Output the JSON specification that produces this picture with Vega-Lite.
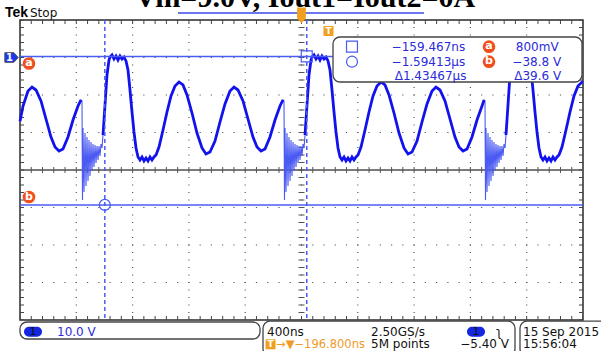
{
  "$schema": "https://vega.github.io/schema/vega-lite/v6.json",
  "width": 563,
  "height": 300,
  "autosize": {"type": "none"},
  "padding": {"left": 20, "top": 20, "right": 18, "bottom": 31},
  "background": "white",
  "config": {"view": {"stroke": "#2a2a2a", "strokeWidth": 1.5}},
  "datasets": {
    "trace": [
      {"t": -2196.8, "v": -16.5, "seg": "w0"}, {"t": -2175.5, "v": -12.43, "seg": "w0"}, {"t": -2140.0, "v": -8.43, "seg": "w0"}, {"t": -2111.5, "v": -7.37, "seg": "w0"}, {"t": -2083.1, "v": -8.17, "seg": "w0"}, {"t": -2047.6, "v": -11.1, "seg": "w0"}, {"t": -2012.1, "v": -15.9, "seg": "w0"}, {"t": -1976.6, "v": -20.7, "seg": "w0"}, {"t": -1948.1, "v": -23.37, "seg": "w0"}, {"t": -1919.7, "v": -24.43, "seg": "w0"}, {"t": -1891.3, "v": -23.9, "seg": "w0"}, {"t": -1855.8, "v": -20.7, "seg": "w0"}, {"t": -1820.2, "v": -16.17, "seg": "w0"}, {"t": -1784.7, "v": -12.43, "seg": "w0"}, {"t": -1763.4, "v": -10.83, "seg": "w0"},
      {"t": -1756.3, "v": -11.1, "seg": "r1"}, {"t": -1752.8, "v": -37.5, "seg": "r1"}, {"t": -1749.2, "v": -18.3, "seg": "r1"}, {"t": -1742.1, "v": -35.37, "seg": "r1"}, {"t": -1735.0, "v": -19.63, "seg": "r1"}, {"t": -1727.9, "v": -33.77, "seg": "r1"}, {"t": -1720.8, "v": -20.7, "seg": "r1"}, {"t": -1713.7, "v": -32.43, "seg": "r1"}, {"t": -1706.6, "v": -21.5, "seg": "r1"}, {"t": -1699.5, "v": -31.1, "seg": "r1"}, {"t": -1692.4, "v": -22.03, "seg": "r1"}, {"t": -1685.3, "v": -29.77, "seg": "r1"}, {"t": -1678.2, "v": -22.57, "seg": "r1"}, {"t": -1671.0, "v": -28.7, "seg": "r1"}, {"t": -1663.9, "v": -22.83, "seg": "r1"}, {"t": -1656.8, "v": -27.63, "seg": "r1"}, {"t": -1649.7, "v": -23.1, "seg": "r1"}, {"t": -1642.6, "v": -26.83, "seg": "r1"}, {"t": -1635.5, "v": -23.1, "seg": "r1"}, {"t": -1628.4, "v": -25.77, "seg": "r1"}, {"t": -1621.3, "v": -22.57, "seg": "r1"}, {"t": -1614.2, "v": -23.63, "seg": "r1"},
      {"t": -1607.1, "v": -20.17, "seg": "w1"}, {"t": -1592.9, "v": -12.17, "seg": "w1"}, {"t": -1578.7, "v": -4.17, "seg": "w1"}, {"t": -1564.5, "v": -0.17, "seg": "w1"}, {"t": -1557.4, "v": 0.63, "seg": "w1"}, {"t": -1543.2, "v": 1.17, "seg": "w1"}, {"t": -1529.0, "v": 0.1, "seg": "w1"}, {"t": -1514.7, "v": 0.9, "seg": "w1"}, {"t": -1500.5, "v": -0.17, "seg": "w1"}, {"t": -1486.3, "v": 0.9, "seg": "w1"}, {"t": -1472.1, "v": 0.1, "seg": "w1"}, {"t": -1457.9, "v": 0.63, "seg": "w1"}, {"t": -1443.7, "v": -0.43, "seg": "w1"}, {"t": -1429.5, "v": -2.83, "seg": "w1"}, {"t": -1415.3, "v": -8.17, "seg": "w1"}, {"t": -1401.1, "v": -14.03, "seg": "w1"}, {"t": -1386.9, "v": -19.37, "seg": "w1"}, {"t": -1372.6, "v": -23.63, "seg": "w1"}, {"t": -1358.4, "v": -26.03, "seg": "w1"}, {"t": -1344.2, "v": -26.83, "seg": "w1"}, {"t": -1330.0, "v": -26.03, "seg": "w1"}, {"t": -1315.8, "v": -27.1, "seg": "w1"}, {"t": -1301.6, "v": -26.3, "seg": "w1"}, {"t": -1287.4, "v": -27.1, "seg": "w1"}, {"t": -1273.2, "v": -26.03, "seg": "w1"}, {"t": -1259.0, "v": -26.83, "seg": "w1"}, {"t": -1244.8, "v": -26.03, "seg": "w1"}, {"t": -1230.5, "v": -25.5, "seg": "w1"}, {"t": -1209.2, "v": -23.37, "seg": "w1"}, {"t": -1180.8, "v": -18.83, "seg": "w1"}, {"t": -1152.4, "v": -14.03, "seg": "w1"}, {"t": -1124.0, "v": -9.77, "seg": "w1"}, {"t": -1095.6, "v": -7.1, "seg": "w1"}, {"t": -1067.1, "v": -6.03, "seg": "w1"}, {"t": -1038.7, "v": -6.83, "seg": "w1"}, {"t": -1010.3, "v": -9.5, "seg": "w1"}, {"t": -974.8, "v": -14.3, "seg": "w1"}, {"t": -939.3, "v": -19.63, "seg": "w1"}, {"t": -903.7, "v": -23.63, "seg": "w1"}, {"t": -875.3, "v": -25.23, "seg": "w1"}, {"t": -846.9, "v": -24.7, "seg": "w1"}, {"t": -811.4, "v": -21.77, "seg": "w1"}, {"t": -775.8, "v": -16.7, "seg": "w1"}, {"t": -740.3, "v": -11.9, "seg": "w1"}, {"t": -704.8, "v": -8.43, "seg": "w1"}, {"t": -676.4, "v": -7.37, "seg": "w1"}, {"t": -648.0, "v": -8.17, "seg": "w1"}, {"t": -612.4, "v": -11.1, "seg": "w1"}, {"t": -576.9, "v": -15.9, "seg": "w1"}, {"t": -541.4, "v": -20.7, "seg": "w1"}, {"t": -513.0, "v": -23.37, "seg": "w1"}, {"t": -484.5, "v": -24.43, "seg": "w1"}, {"t": -456.1, "v": -23.9, "seg": "w1"}, {"t": -420.6, "v": -20.7, "seg": "w1"}, {"t": -385.1, "v": -16.17, "seg": "w1"}, {"t": -349.6, "v": -12.43, "seg": "w1"}, {"t": -328.2, "v": -10.83, "seg": "w1"},
      {"t": -321.1, "v": -11.1, "seg": "r2"}, {"t": -317.6, "v": -37.5, "seg": "r2"}, {"t": -314.0, "v": -18.3, "seg": "r2"}, {"t": -306.9, "v": -35.37, "seg": "r2"}, {"t": -299.8, "v": -19.63, "seg": "r2"}, {"t": -292.7, "v": -33.77, "seg": "r2"}, {"t": -285.6, "v": -20.7, "seg": "r2"}, {"t": -278.5, "v": -32.43, "seg": "r2"}, {"t": -271.4, "v": -21.5, "seg": "r2"}, {"t": -264.3, "v": -31.1, "seg": "r2"}, {"t": -257.2, "v": -22.03, "seg": "r2"}, {"t": -250.1, "v": -29.77, "seg": "r2"}, {"t": -243.0, "v": -22.57, "seg": "r2"}, {"t": -235.8, "v": -28.7, "seg": "r2"}, {"t": -228.7, "v": -22.83, "seg": "r2"}, {"t": -221.6, "v": -27.63, "seg": "r2"}, {"t": -214.5, "v": -23.1, "seg": "r2"}, {"t": -207.4, "v": -26.83, "seg": "r2"}, {"t": -200.3, "v": -23.1, "seg": "r2"}, {"t": -193.2, "v": -25.77, "seg": "r2"}, {"t": -186.1, "v": -22.57, "seg": "r2"}, {"t": -179.0, "v": -23.63, "seg": "r2"},
      {"t": -171.9, "v": -20.17, "seg": "w2"}, {"t": -157.7, "v": -12.17, "seg": "w2"}, {"t": -143.5, "v": -4.17, "seg": "w2"}, {"t": -129.3, "v": -0.17, "seg": "w2"}, {"t": -122.2, "v": 0.63, "seg": "w2"}, {"t": -108.0, "v": 1.17, "seg": "w2"}, {"t": -93.8, "v": 0.1, "seg": "w2"}, {"t": -79.5, "v": 0.9, "seg": "w2"}, {"t": -65.3, "v": -0.17, "seg": "w2"}, {"t": -51.1, "v": 0.9, "seg": "w2"}, {"t": -36.9, "v": 0.1, "seg": "w2"}, {"t": -22.7, "v": 0.63, "seg": "w2"}, {"t": -8.5, "v": -0.43, "seg": "w2"}, {"t": 5.7, "v": -2.83, "seg": "w2"}, {"t": 19.9, "v": -8.17, "seg": "w2"}, {"t": 34.1, "v": -14.03, "seg": "w2"}, {"t": 48.3, "v": -19.37, "seg": "w2"}, {"t": 62.6, "v": -23.63, "seg": "w2"}, {"t": 76.8, "v": -26.03, "seg": "w2"}, {"t": 91.0, "v": -26.83, "seg": "w2"}, {"t": 105.2, "v": -26.03, "seg": "w2"}, {"t": 119.4, "v": -27.1, "seg": "w2"}, {"t": 133.6, "v": -26.3, "seg": "w2"}, {"t": 147.8, "v": -27.1, "seg": "w2"}, {"t": 162.0, "v": -26.03, "seg": "w2"}, {"t": 176.2, "v": -26.83, "seg": "w2"}, {"t": 190.5, "v": -26.03, "seg": "w2"}, {"t": 204.7, "v": -25.5, "seg": "w2"}, {"t": 226.0, "v": -23.37, "seg": "w2"}, {"t": 254.4, "v": -18.83, "seg": "w2"}, {"t": 282.8, "v": -14.03, "seg": "w2"}, {"t": 311.2, "v": -9.77, "seg": "w2"}, {"t": 339.6, "v": -7.1, "seg": "w2"}, {"t": 368.1, "v": -6.03, "seg": "w2"}, {"t": 396.5, "v": -6.83, "seg": "w2"}, {"t": 424.9, "v": -9.5, "seg": "w2"}, {"t": 460.4, "v": -14.3, "seg": "w2"}, {"t": 496.0, "v": -19.63, "seg": "w2"}, {"t": 531.5, "v": -23.63, "seg": "w2"}, {"t": 559.9, "v": -25.23, "seg": "w2"}, {"t": 588.3, "v": -24.7, "seg": "w2"}, {"t": 623.8, "v": -21.77, "seg": "w2"}, {"t": 659.4, "v": -16.7, "seg": "w2"}, {"t": 694.9, "v": -11.9, "seg": "w2"}, {"t": 730.4, "v": -8.43, "seg": "w2"}, {"t": 758.8, "v": -7.37, "seg": "w2"}, {"t": 787.2, "v": -8.17, "seg": "w2"}, {"t": 822.8, "v": -11.1, "seg": "w2"}, {"t": 858.3, "v": -15.9, "seg": "w2"}, {"t": 893.8, "v": -20.7, "seg": "w2"}, {"t": 922.2, "v": -23.37, "seg": "w2"}, {"t": 950.7, "v": -24.43, "seg": "w2"}, {"t": 979.1, "v": -23.9, "seg": "w2"}, {"t": 1014.6, "v": -20.7, "seg": "w2"}, {"t": 1050.1, "v": -16.17, "seg": "w2"}, {"t": 1085.7, "v": -12.43, "seg": "w2"}, {"t": 1100.0, "v": -10.83, "seg": "w2"},
      {"t": 1106.9, "v": -11.1, "seg": "r3"}, {"t": 1110.5, "v": -37.5, "seg": "r3"}, {"t": 1114.0, "v": -18.3, "seg": "r3"}, {"t": 1121.1, "v": -35.37, "seg": "r3"}, {"t": 1128.2, "v": -19.63, "seg": "r3"}, {"t": 1135.3, "v": -33.77, "seg": "r3"}, {"t": 1142.4, "v": -20.7, "seg": "r3"}, {"t": 1149.5, "v": -32.43, "seg": "r3"}, {"t": 1156.6, "v": -21.5, "seg": "r3"}, {"t": 1163.7, "v": -31.1, "seg": "r3"}, {"t": 1170.8, "v": -22.03, "seg": "r3"}, {"t": 1178.0, "v": -29.77, "seg": "r3"}, {"t": 1185.1, "v": -22.57, "seg": "r3"}, {"t": 1192.2, "v": -28.7, "seg": "r3"}, {"t": 1199.3, "v": -22.83, "seg": "r3"}, {"t": 1206.4, "v": -27.63, "seg": "r3"}, {"t": 1213.5, "v": -23.1, "seg": "r3"}, {"t": 1220.6, "v": -26.83, "seg": "r3"}, {"t": 1227.7, "v": -23.1, "seg": "r3"}, {"t": 1234.8, "v": -25.77, "seg": "r3"}, {"t": 1241.9, "v": -22.57, "seg": "r3"}, {"t": 1249.0, "v": -23.63, "seg": "r3"},
      {"t": 1256.1, "v": -20.17, "seg": "w3"}, {"t": 1270.3, "v": -12.17, "seg": "w3"}, {"t": 1284.5, "v": -4.17, "seg": "w3"}, {"t": 1298.7, "v": -0.17, "seg": "w3"}, {"t": 1305.8, "v": 0.63, "seg": "w3"}, {"t": 1320.0, "v": 1.17, "seg": "w3"}, {"t": 1334.3, "v": 0.1, "seg": "w3"}, {"t": 1348.5, "v": 0.9, "seg": "w3"}, {"t": 1362.7, "v": -0.17, "seg": "w3"}, {"t": 1376.9, "v": 0.9, "seg": "w3"}, {"t": 1391.1, "v": 0.1, "seg": "w3"}, {"t": 1405.3, "v": 0.63, "seg": "w3"}, {"t": 1419.5, "v": -0.43, "seg": "w3"}, {"t": 1433.7, "v": -2.83, "seg": "w3"}, {"t": 1447.9, "v": -8.17, "seg": "w3"}, {"t": 1462.1, "v": -14.03, "seg": "w3"}, {"t": 1476.3, "v": -19.37, "seg": "w3"}, {"t": 1490.6, "v": -23.63, "seg": "w3"}, {"t": 1504.8, "v": -26.03, "seg": "w3"}, {"t": 1519.0, "v": -26.83, "seg": "w3"}, {"t": 1533.2, "v": -26.03, "seg": "w3"}, {"t": 1547.4, "v": -27.1, "seg": "w3"}, {"t": 1561.6, "v": -26.3, "seg": "w3"}, {"t": 1575.8, "v": -27.1, "seg": "w3"}, {"t": 1590.0, "v": -26.03, "seg": "w3"}, {"t": 1604.2, "v": -26.83, "seg": "w3"}, {"t": 1618.5, "v": -26.03, "seg": "w3"}, {"t": 1632.7, "v": -25.5, "seg": "w3"}, {"t": 1654.0, "v": -23.37, "seg": "w3"}, {"t": 1682.4, "v": -18.83, "seg": "w3"}, {"t": 1710.8, "v": -14.03, "seg": "w3"}, {"t": 1739.2, "v": -9.77, "seg": "w3"}, {"t": 1767.6, "v": -7.1, "seg": "w3"}, {"t": 1796.1, "v": -6.03, "seg": "w3"}, {"t": 1803.2, "v": -6.0, "seg": "w3"}
    ]
  },
  "layer": [
    {
      "data": {"values": [{"t": -1796.8}, {"t": -1396.8}, {"t": -996.8}, {"t": -596.8}, {"t": -196.8}, {"t": 203.2}, {"t": 603.2}, {"t": 1003.2}, {"t": 1403.2}]},
      "mark": {"type": "rule", "color": "#555", "strokeWidth": 1.2, "strokeDash": [1.2, 6.3], "strokeDashOffset": 0.6},
      "encoding": {
        "x": {"field": "t", "type": "quantitative", "scale": {"domain": [-2196.8, 1803.2], "nice": false, "zero": false}, "axis": null}
      }
    },
    {
      "data": {"values": [{"v": 0.5}, {"v": -9.5}, {"v": -19.5}, {"v": -39.5}, {"v": -49.5}, {"v": -59.5}]},
      "mark": {"type": "rule", "color": "#555", "strokeWidth": 1.2, "strokeDash": [1.2, 10.06], "strokeDashOffset": 0.6},
      "encoding": {
        "y": {"field": "v", "type": "quantitative", "scale": {"domain": [-69.5, 10.5], "nice": false, "zero": false}, "axis": null}
      }
    },
    {
      "data": {"values": [{"v": -29.5}]},
      "mark": {"type": "rule", "color": "#7a7a7a", "strokeWidth": 2.2},
      "encoding": {
        "y": {"field": "v", "type": "quantitative", "scale": {"domain": [-69.5, 10.5], "nice": false, "zero": false}, "axis": null}
      }
    },
    {
      "data": {"values": [{"v": 9.97}, {"v": -68.97}]},
      "mark": {"type": "rule", "color": "#444", "strokeWidth": 4, "strokeDash": [1, 10.26], "strokeDashOffset": 0.5},
      "encoding": {
        "y": {"field": "v", "type": "quantitative", "scale": {"domain": [-69.5, 10.5], "nice": false, "zero": false}, "axis": null}
      }
    },
    {
      "data": {"values": [{"v": -29.5}]},
      "mark": {"type": "rule", "color": "#555", "strokeWidth": 6, "strokeDash": [1, 10.26], "strokeDashOffset": 0.5},
      "encoding": {
        "y": {"field": "v", "type": "quantitative", "scale": {"domain": [-69.5, 10.5], "nice": false, "zero": false}, "axis": null}
      }
    },
    {
      "data": {"values": [{"t": -2182.6}, {"t": 1789.0}]},
      "mark": {"type": "rule", "color": "#444", "strokeWidth": 4, "strokeDash": [1, 6.5], "strokeDashOffset": 0.5},
      "encoding": {
        "x": {"field": "t", "type": "quantitative", "scale": {"domain": [-2196.8, 1803.2], "nice": false, "zero": false}, "axis": null}
      }
    },
    {
      "data": {"values": [{"t": -196.8}]},
      "mark": {"type": "rule", "color": "#555", "strokeWidth": 6, "strokeDash": [1, 6.5], "strokeDashOffset": 0.5},
      "encoding": {
        "x": {"field": "t", "type": "quantitative", "scale": {"domain": [-2196.8, 1803.2], "nice": false, "zero": false}, "axis": null}
      }
    },
    {
      "data": {"name": "trace"},
      "mark": {"type": "line", "color": "#4a5af2", "strokeWidth": 1.1},
      "encoding": {
        "x": {"field": "t", "type": "quantitative", "scale": {"domain": [-2196.8, 1803.2], "nice": false, "zero": false}, "axis": null},
        "y": {"field": "v", "type": "quantitative", "scale": {"domain": [-69.5, 10.5], "nice": false, "zero": false}, "axis": null}
      }
    },
    {
      "data": {"name": "trace"},
      "transform": [{"filter": {"field": "seg", "oneOf": ["w0", "w1", "w2", "w3"]}}],
      "mark": {"type": "line", "color": "#1212ee", "strokeWidth": 2.8},
      "encoding": {
        "x": {"field": "t", "type": "quantitative", "scale": {"domain": [-2196.8, 1803.2], "nice": false, "zero": false}, "axis": null},
        "y": {"field": "v", "type": "quantitative", "scale": {"domain": [-69.5, 10.5], "nice": false, "zero": false}, "axis": null},
        "detail": {"field": "seg", "type": "nominal"}
      }
    },
    {
      "data": {"values": [{"t": -159.467, "cursor": "1"}, {"t": -1594.13, "cursor": "2"}]},
      "mark": {"type": "rule", "color": "#4a5cf2", "strokeWidth": 1.5, "strokeDash": [4, 3]},
      "encoding": {
        "x": {"field": "t", "type": "quantitative", "scale": {"domain": [-2196.8, 1803.2], "nice": false, "zero": false}, "axis": null}
      }
    },
    {
      "data": {"values": [{"v": 0.8, "cursor": "a"}, {"v": -38.8, "cursor": "b"}]},
      "mark": {"type": "rule", "color": "#4a5cf2", "strokeWidth": 1.5},
      "encoding": {
        "y": {"field": "v", "type": "quantitative", "scale": {"domain": [-69.5, 10.5], "nice": false, "zero": false}, "axis": null}
      }
    },
    {
      "data": {"values": [{"t": -1074.2, "t2": 673.5, "v": 12.37}]},
      "mark": {"type": "rule", "color": "#3a4ae6", "strokeWidth": 1.5},
      "encoding": {
        "x": {"field": "t", "type": "quantitative", "scale": {"domain": [-2196.8, 1803.2], "nice": false, "zero": false}, "axis": null},
        "x2": {"field": "t2"},
        "y": {"field": "v", "type": "quantitative", "scale": {"domain": [-69.5, 10.5], "nice": false, "zero": false}, "axis": null}
      }
    },
    {
      "data": {"values": [
        {"t": 27.0, "t2": 1796.1, "v": 5.97, "v2": -6.03},
        {"t": -2196.8, "t2": -491.6, "v": -70.03, "v2": -74.57},
        {"t": -470.3, "t2": 1320.1, "v": -69.8, "v2": -79.0},
        {"t": 1355.6, "t2": 1990.0, "v": -69.8, "v2": -79.0}
      ]},
      "mark": {"type": "rect", "fill": "white", "stroke": "#444", "strokeWidth": 1.3, "cornerRadius": 7},
      "encoding": {
        "x": {"field": "t", "type": "quantitative", "scale": {"domain": [-2196.8, 1803.2], "nice": false, "zero": false}, "axis": null},
        "x2": {"field": "t2"},
        "y": {"field": "v", "type": "quantitative", "scale": {"domain": [-69.5, 10.5], "nice": false, "zero": false}, "axis": null},
        "y2": {"field": "v2"}
      }
    },
    {
      "data": {"values": [
        {"t": -159.467, "v": 0.8, "cursor": "1"},
        {"t": -1594.13, "v": -38.8, "cursor": "2"},
        {"t": 162.0, "v": 3.38, "cursor": "1"},
        {"t": 162.0, "v": -0.62, "cursor": "2"}
      ]},
      "mark": {"type": "point", "filled": false, "color": "#4a5cf2", "strokeWidth": 1.2, "size": 120, "opacity": 1},
      "encoding": {
        "x": {"field": "t", "type": "quantitative", "scale": {"domain": [-2196.8, 1803.2], "nice": false, "zero": false}, "axis": null},
        "y": {"field": "v", "type": "quantitative", "scale": {"domain": [-69.5, 10.5], "nice": false, "zero": false}, "axis": null},
        "shape": {"field": "cursor", "type": "nominal", "scale": {"domain": ["1", "2"], "range": ["square", "circle"]}, "legend": null}
      }
    },
    {
      "data": {"values": [
        {"t": -2132.9, "v": -1.1, "label": "a"},
        {"t": -2132.9, "v": -36.7, "label": "b"},
        {"t": 1135.4, "v": 3.38, "label": "a"},
        {"t": 1135.4, "v": -0.62, "label": "b"}
      ]},
      "layer": [
        {
          "mark": {"type": "point", "filled": true, "shape": "circle", "color": "#f0501e", "size": 160, "opacity": 1},
          "encoding": {
            "x": {"field": "t", "type": "quantitative", "scale": {"domain": [-2196.8, 1803.2], "nice": false, "zero": false}, "axis": null},
            "y": {"field": "v", "type": "quantitative", "scale": {"domain": [-69.5, 10.5], "nice": false, "zero": false}, "axis": null}
          }
        },
        {
          "mark": {"type": "text", "color": "white", "font": "DejaVu Sans", "fontWeight": "bold", "fontSize": 11, "align": "center", "baseline": "middle", "dy": -0.5},
          "encoding": {
            "x": {"field": "t", "type": "quantitative", "scale": {"domain": [-2196.8, 1803.2], "nice": false, "zero": false}, "axis": null},
            "y": {"field": "v", "type": "quantitative", "scale": {"domain": [-69.5, 10.5], "nice": false, "zero": false}, "axis": null},
            "text": {"field": "label"}
          }
        }
      ]
    },
    {
      "data": {"values": [{"t": -2257.0, "v": 0.5, "label": "1"}]},
      "layer": [
        {
          "mark": {"type": "point", "filled": true, "shape": "M -1 -0.72 L 0.35 -0.72 L 1 0 L 0.35 0.72 L -1 0.72 Z", "color": "#1a3ae8", "stroke": "#555", "strokeWidth": 1, "size": 180, "opacity": 1},
          "encoding": {
            "x": {"field": "t", "type": "quantitative", "scale": {"domain": [-2196.8, 1803.2], "nice": false, "zero": false}, "axis": null},
            "y": {"field": "v", "type": "quantitative", "scale": {"domain": [-69.5, 10.5], "nice": false, "zero": false}, "axis": null}
          }
        },
        {
          "mark": {"type": "text", "color": "white", "font": "DejaVu Sans", "fontWeight": "bold", "fontSize": 10, "align": "center", "baseline": "middle", "dx": -2},
          "encoding": {
            "x": {"field": "t", "type": "quantitative", "scale": {"domain": [-2196.8, 1803.2], "nice": false, "zero": false}, "axis": null},
            "y": {"field": "v", "type": "quantitative", "scale": {"domain": [-69.5, 10.5], "nice": false, "zero": false}, "axis": null},
            "text": {"field": "label"}
          }
        }
      ]
    },
    {
      "data": {"values": [{"t": -2104.4, "v": -72.62, "label": "1"}, {"t": 1043.0, "v": -72.62, "label": "1"}]},
      "layer": [
        {
          "mark": {"type": "point", "filled": true, "shape": "M -0.45 -0.55 L 0.45 -0.55 A 0.55 0.55 0 0 1 0.45 0.55 L -0.45 0.55 A 0.55 0.55 0 0 1 -0.45 -0.55 Z", "color": "#1426e0", "size": 324, "opacity": 1},
          "encoding": {
            "x": {"field": "t", "type": "quantitative", "scale": {"domain": [-2196.8, 1803.2], "nice": false, "zero": false}, "axis": null},
            "y": {"field": "v", "type": "quantitative", "scale": {"domain": [-69.5, 10.5], "nice": false, "zero": false}, "axis": null}
          }
        },
        {
          "mark": {"type": "text", "color": "#111", "font": "DejaVu Sans", "fontSize": 11, "align": "center", "baseline": "middle"},
          "encoding": {
            "x": {"field": "t", "type": "quantitative", "scale": {"domain": [-2196.8, 1803.2], "nice": false, "zero": false}, "axis": null},
            "y": {"field": "v", "type": "quantitative", "scale": {"domain": [-69.5, 10.5], "nice": false, "zero": false}, "axis": null},
            "text": {"field": "label"}
          }
        }
      ]
    },
    {
      "data": {"values": [{"t": -196.8, "v": 11.7}]},
      "mark": {"type": "point", "filled": true, "shape": "M -0.55 -1 L 0.55 -1 L 0.55 0.3 L 0 1 L -0.55 0.3 Z", "color": "#f0a020", "size": 256, "opacity": 1},
      "encoding": {
        "x": {"field": "t", "type": "quantitative", "scale": {"domain": [-2196.8, 1803.2], "nice": false, "zero": false}, "axis": null},
        "y": {"field": "v", "type": "quantitative", "scale": {"domain": [-69.5, 10.5], "nice": false, "zero": false}, "axis": null}
      }
    },
    {
      "data": {"values": [{"t": -5.0, "v": 7.57, "label": "T"}, {"t": -416.9, "v": -75.98, "label": "T"}]},
      "layer": [
        {
          "mark": {"type": "point", "filled": true, "shape": "square", "color": "#f0a020", "size": 100, "opacity": 1},
          "encoding": {
            "x": {"field": "t", "type": "quantitative", "scale": {"domain": [-2196.8, 1803.2], "nice": false, "zero": false}, "axis": null},
            "y": {"field": "v", "type": "quantitative", "scale": {"domain": [-69.5, 10.5], "nice": false, "zero": false}, "axis": null}
          }
        },
        {
          "mark": {"type": "text", "color": "white", "font": "DejaVu Sans", "fontWeight": "bold", "fontSize": 9, "align": "center", "baseline": "middle"},
          "encoding": {
            "x": {"field": "t", "type": "quantitative", "scale": {"domain": [-2196.8, 1803.2], "nice": false, "zero": false}, "axis": null},
            "y": {"field": "v", "type": "quantitative", "scale": {"domain": [-69.5, 10.5], "nice": false, "zero": false}, "axis": null},
            "text": {"field": "label"}
          }
        }
      ]
    },
    {
      "data": {"values": [{"t": -171.9, "v": 13.97, "label": "Vin=9.0V, Iout1=Iout2=0A"}]},
      "mark": {"type": "text", "color": "#000", "font": "Liberation Serif", "fontWeight": "bold", "fontSize": 30, "align": "center", "baseline": "alphabetic"},
      "encoding": {
        "x": {"field": "t", "type": "quantitative", "scale": {"domain": [-2196.8, 1803.2], "nice": false, "zero": false}, "axis": null},
        "y": {"field": "v", "type": "quantitative", "scale": {"domain": [-69.5, 10.5], "nice": false, "zero": false}, "axis": null},
        "text": {"field": "label"}
      }
    },
    {
      "data": {"values": [{"t": -2303.4, "v": 12.37, "label": "Tek"}]},
      "mark": {"type": "text", "color": "#000", "font": "Liberation Sans", "fontWeight": "bold", "fontSize": 14, "align": "left", "baseline": "middle"},
      "encoding": {
        "x": {"field": "t", "type": "quantitative", "scale": {"domain": [-2196.8, 1803.2], "nice": false, "zero": false}, "axis": null},
        "y": {"field": "v", "type": "quantitative", "scale": {"domain": [-69.5, 10.5], "nice": false, "zero": false}, "axis": null},
        "text": {"field": "label"}
      }
    },
    {
      "data": {"values": [
        {"t": -2125.7, "v": 12.37, "label": "Stop"},
        {"t": -441.9, "v": -72.62, "label": "400ns"},
        {"t": 297.0, "v": -72.62, "label": "2.50GS/s"},
        {"t": 297.0, "v": -75.98, "label": "5M points"},
        {"t": 1376.9, "v": -72.62, "label": "15 Sep  2015"},
        {"t": 1376.9, "v": -75.98, "label": "15:56:04"},
        {"t": 1185.0, "v": -72.62, "label": "ʅ"}
      ]},
      "mark": {"type": "text", "color": "#111", "font": "DejaVu Sans", "fontSize": 12, "align": "left", "baseline": "middle"},
      "encoding": {
        "x": {"field": "t", "type": "quantitative", "scale": {"domain": [-2196.8, 1803.2], "nice": false, "zero": false}, "axis": null},
        "y": {"field": "v", "type": "quantitative", "scale": {"domain": [-69.5, 10.5], "nice": false, "zero": false}, "axis": null},
        "text": {"field": "label"}
      }
    },
    {
      "data": {"values": [{"t": 1277.4, "v": -75.98, "label": "−5.40 V"}]},
      "mark": {"type": "text", "color": "#111", "font": "DejaVu Sans", "fontSize": 12, "align": "right", "baseline": "middle"},
      "encoding": {
        "x": {"field": "t", "type": "quantitative", "scale": {"domain": [-2196.8, 1803.2], "nice": false, "zero": false}, "axis": null},
        "y": {"field": "v", "type": "quantitative", "scale": {"domain": [-69.5, 10.5], "nice": false, "zero": false}, "axis": null},
        "text": {"field": "label"}
      }
    },
    {
      "data": {"values": [{"t": -1933.9, "v": -72.62, "label": "10.0 V"}]},
      "mark": {"type": "text", "color": "#2b2bd9", "font": "DejaVu Sans", "fontSize": 12, "align": "left", "baseline": "middle"},
      "encoding": {
        "x": {"field": "t", "type": "quantitative", "scale": {"domain": [-2196.8, 1803.2], "nice": false, "zero": false}, "axis": null},
        "y": {"field": "v", "type": "quantitative", "scale": {"domain": [-69.5, 10.5], "nice": false, "zero": false}, "axis": null},
        "text": {"field": "label"}
      }
    },
    {
      "data": {"values": [{"t": -378.0, "v": -76.2, "label": "→▼−196.800ns"}]},
      "mark": {"type": "text", "color": "#f09a28", "font": "DejaVu Sans", "fontSize": 11.5, "align": "left", "baseline": "middle"},
      "encoding": {
        "x": {"field": "t", "type": "quantitative", "scale": {"domain": [-2196.8, 1803.2], "nice": false, "zero": false}, "axis": null},
        "y": {"field": "v", "type": "quantitative", "scale": {"domain": [-69.5, 10.5], "nice": false, "zero": false}, "axis": null},
        "text": {"field": "label"}
      }
    },
    {
      "data": {"values": [
        {"t": 966.0, "v": 3.38, "label": "−159.467ns"},
        {"t": 966.0, "v": -0.62, "label": "−1.59413µs"},
        {"t": 975.0, "v": -4.43, "label": "Δ1.43467µs"},
        {"t": 1630.0, "v": 3.38, "label": "800mV"},
        {"t": 1648.0, "v": -0.62, "label": "−38.8 V"},
        {"t": 1648.0, "v": -4.43, "label": "Δ39.6 V"}
      ]},
      "mark": {"type": "text", "color": "#2b2bd9", "font": "DejaVu Sans", "fontSize": 12, "align": "right", "baseline": "middle"},
      "encoding": {
        "x": {"field": "t", "type": "quantitative", "scale": {"domain": [-2196.8, 1803.2], "nice": false, "zero": false}, "axis": null},
        "y": {"field": "v", "type": "quantitative", "scale": {"domain": [-69.5, 10.5], "nice": false, "zero": false}, "axis": null},
        "text": {"field": "label"}
      }
    }
  ]
}
